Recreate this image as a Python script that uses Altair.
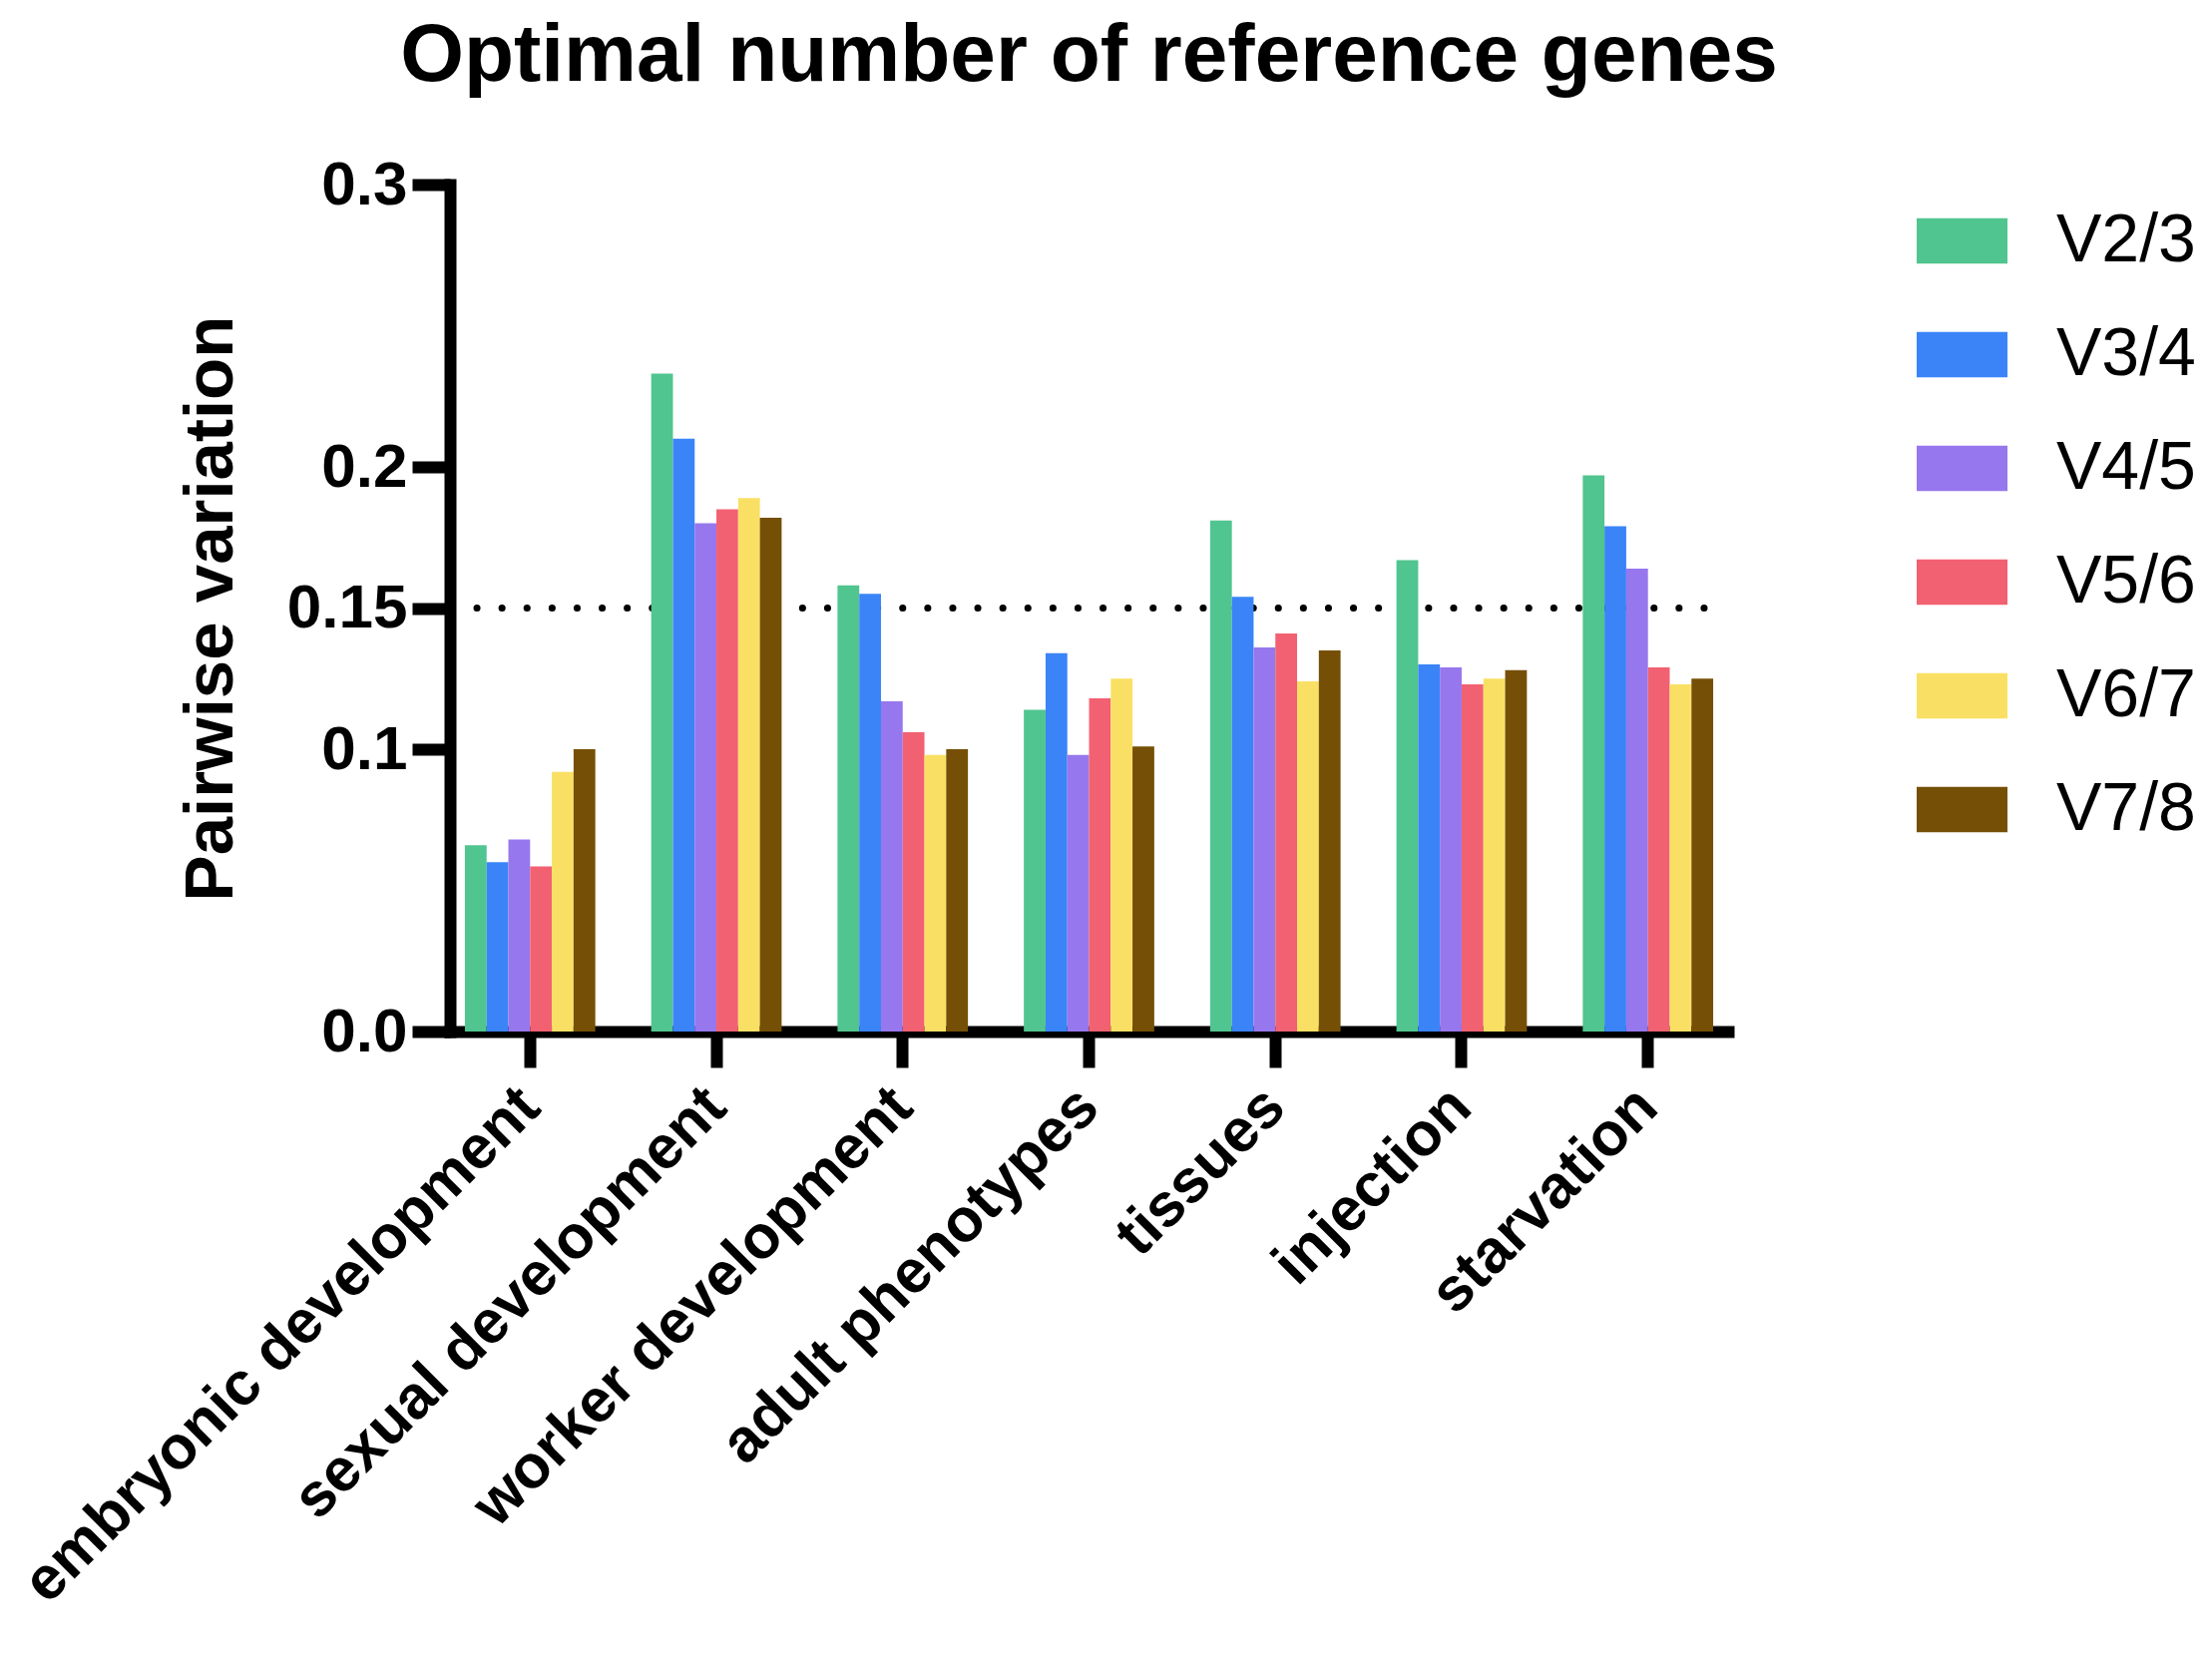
import altair as alt
import pandas as pd

categories = ["embryonic development", "sexual development", "worker development",
              "adult phenotypes", "tissues", "injection", "starvation"]
series = ["V2/3", "V3/4", "V4/5", "V5/6", "V6/7", "V7/8"]

v23 = [0.066, 0.233, 0.158, 0.114, 0.181, 0.167, 0.197]
v34 = [0.060, 0.210, 0.155, 0.134, 0.154, 0.130, 0.179]
v45 = [0.068, 0.180, 0.117, 0.098, 0.136, 0.129, 0.164]
v56 = [0.0585, 0.185, 0.106, 0.118, 0.141, 0.123, 0.129]
v67 = [0.092, 0.189, 0.098, 0.125, 0.124, 0.125, 0.123]
v78 = [0.100, 0.182, 0.100, 0.101, 0.135, 0.128, 0.125]

colors = ["#50C58F", "#3A84F8", "#9777EE", "#F26171", "#F9E064", "#754F05"]
threshold = [0.15]
y_ticks = [0, 0.1, 0.15, 0.2, 0.3]

rows = []
for s, vals in zip(series, [v23, v34, v45, v56, v67, v78]):
    for c, v in zip(categories, vals):
        rows.append({"category": c, "series": s, "value": v})
df = pd.DataFrame(rows)

FONT = "Liberation Sans"
W, H = 1281, 849

bars = alt.Chart(df).mark_bar().encode(
    x=alt.X("category:N", sort=categories, title="",
            scale=alt.Scale(paddingInner=0.3, paddingOuter=0.08),
            axis=alt.Axis(labelAngle=-45, labelAlign="right", labelBaseline="middle",
                          labelFont=FONT, labelFontSize=61, labelFontWeight="bold",
                          labelColor="black", labelPadding=30, labelLimit=1200,
                          domainColor="black", domainWidth=12, domainCap="square",
                          tickColor="black", tickWidth=12, tickSize=36, grid=False)),
    xOffset=alt.XOffset("series:N", sort=series,
                        scale=alt.Scale(paddingInner=0, paddingOuter=0)),
    y=alt.Y("value:Q", scale=alt.Scale(domain=[0, 0.3], nice=False),
            axis=alt.Axis(values=y_ticks,
                          labelExpr="datum.value == 0 ? '0.0' : '' + datum.value",
                          labelFont=FONT, labelFontSize=62, labelFontWeight="bold",
                          labelColor="black", labelPadding=5,
                          domainColor="black", domainWidth=12, domainCap="square",
                          tickColor="black", tickWidth=12, tickSize=38, grid=False,
                          title="Pairwise variation", titleFont=FONT, titleFontSize=69,
                          titleFontWeight="bold", titleColor="black",
                          titleAngle=270, titleX=-240, titleY=H / 2,
                          titleAlign="center", titleBaseline="middle")),
    color=alt.Color("series:N", sort=series,
                    scale=alt.Scale(domain=series, range=colors),
                    legend=alt.Legend(orient="none", legendX=1470, legendY=11,
                                      title="", padding=0, offset=0,
                                      symbolType="M-1,-0.5L1,-0.5L1,0.5L-1,0.5Z",
                                      symbolSize=8281, symbolStrokeWidth=0,
                                      labelFont=FONT, labelFontSize=68,
                                      labelColor="black", labelOffset=49,
                                      labelLimit=400, rowPadding=34)),
)

rule = alt.Chart(pd.DataFrame({"y": threshold})).mark_rule(
    color="black", strokeWidth=7, strokeDash=[0.1, 25], strokeCap="round"
).encode(y="y:Q", x=alt.value(27), x2=alt.value(1263))

chart = alt.layer(rule, bars).properties(
    width=W, height=H,
    autosize=alt.AutoSizeParams(type="none"),
    padding={"left": 443, "top": 177, "right": 477, "bottom": 624},
    title=alt.TitleParams("Optimal number of reference genes", font=FONT, fontSize=82,
                          fontWeight="bold", color="black", anchor="middle", offset=56),
    background="white",
).configure_view(strokeWidth=0)

chart.save("out.html", embed_options={"renderer": "svg", "actions": False})
